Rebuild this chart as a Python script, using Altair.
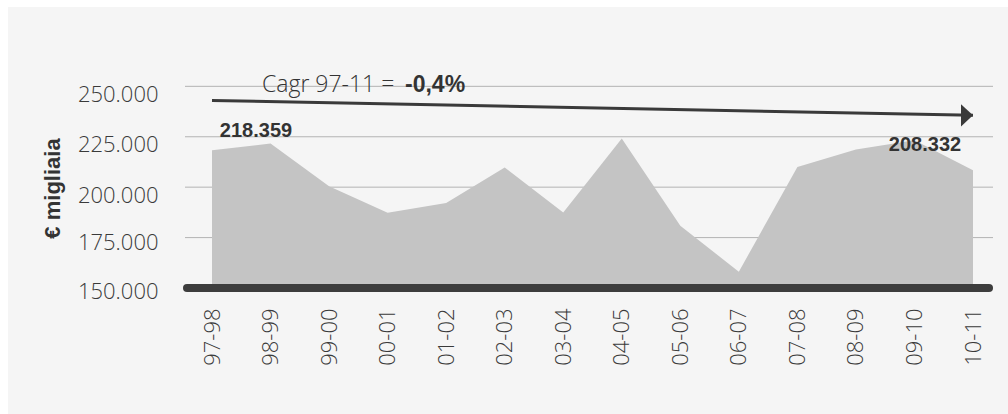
import altair as alt
import pandas as pd

periods = ["97-98", "98-99", "99-00", "00-01", "01-02", "02-03", "03-04",
           "04-05", "05-06", "06-07", "07-08", "08-09", "09-10", "10-11"]
values = [218359, 221600, 200500, 187300, 192200, 209750, 187500,
          224100, 180850, 158070, 210050, 218660, 223270, 208332]
y_ticks = [150000, 175000, 200000, 225000, 250000]
first_label = "218.359"
last_label = "208.332"
cagr_text = "Cagr 97-11 ="
cagr_value = "-0,4%"
arrow_start = 243000
arrow_end = 235600
y_base = 150000

df = pd.DataFrame({"period": periods, "value": values})
grid_df = pd.DataFrame({"value": y_ticks})
first_df = pd.DataFrame({"period": [periods[0]], "value": [values[0]], "label": [first_label]})
last_df = pd.DataFrame({"period": [periods[-1]], "value": [values[-1]], "label": [last_label]})
arrow_df = pd.DataFrame({"period": [periods[0]], "period2": [periods[-1]],
                         "value": [arrow_start], "end": [arrow_end]})
head_df = pd.DataFrame({"period": [periods[-1]], "value": [arrow_end]})
cagr_df = pd.DataFrame({"period": [periods[0]], "value": [y_ticks[-1]],
                        "t1": [cagr_text], "t2": [cagr_value]})
base_df = pd.DataFrame({"value": [y_base]})

LIGHT = "Open Sans"
BOLD = "Liberation Sans"
TXT = "#3a3a3a"

xscale = alt.Scale(type="point", domain=periods, range=[27, 788], padding=0)
yscale = alt.Scale(domain=[150000, 270000], nice=False, zero=False)

x_axis = alt.Axis(labelAngle=270, labelAlign="right", labelBaseline="middle",
                  ticks=False, grid=False, domain=False, labelFont=LIGHT,
                  labelFontWeight=300, labelFontSize=22, labelColor=TXT,
                  labelPadding=20, title=None)
y_axis = alt.Axis(values=y_ticks, labelExpr="format(datum.value/1000, '.3f')",
                  domain=False, ticks=False, grid=False, labelFont=LIGHT,
                  labelFontWeight=300, labelFontSize=22, labelColor=TXT,
                  labelPadding=27,
                  labelOffset={"condition": [{"test": "datum.value < 160000", "value": 3},
                                             {"test": "datum.value < 185000", "value": 5}],
                               "value": 8},
                  title="€ migliaia", titleFont=BOLD,
                  titleFontWeight="bold", titleFontSize=22, titleColor="#333333",
                  titleX=-133, titleY=142, titleBaseline="middle", titleAngle=270)


def X():
    return alt.X("period:N", scale=xscale, axis=x_axis, title=None)


def Y():
    return alt.Y("value:Q", scale=yscale, axis=y_axis, title="€ migliaia")


grid = alt.Chart(grid_df).mark_rule(color="#b3b3b3", strokeWidth=1).encode(
    x=alt.value(0), x2=alt.value(808), y=Y())

area = alt.Chart(df).mark_area(color="#c4c4c4", opacity=1).encode(
    x=X(), y=Y(), y2=alt.datum(y_base),
)

baseline = alt.Chart(base_df).mark_rule(color="#3d3d3d", strokeWidth=8,
                                        strokeCap="round").encode(
    x=alt.value(2), x2=alt.value(804), y=Y())

arrow = alt.Chart(arrow_df).mark_rule(color="#3a3a3a", strokeWidth=3).encode(
    x=X(), x2="period2:N", y=Y(), y2="end:Q",
)

head = alt.Chart(head_df).mark_point(
    shape="M0,0L-1,-0.92L-1,0.92Z", size=576, filled=True, color="#3a3a3a", opacity=1
).encode(x=X(), y=Y())

lab1 = alt.Chart(first_df).mark_text(font=BOLD, fontWeight="bold", fontSize=20,
                                     color="#333333", dx=44, dy=-19,
                                     baseline="middle", align="center").encode(
    x=X(), y=Y(), text="label:N")
lab2 = alt.Chart(last_df).mark_text(font=BOLD, fontWeight="bold", fontSize=20,
                                    color="#333333", dx=-48, dy=-25,
                                    baseline="middle", align="center").encode(
    x=X(), y=Y(), text="label:N")

cagr1 = alt.Chart(cagr_df).mark_text(font=LIGHT, fontWeight=300, fontSize=23,
                                     color="#333333", dx=50, dy=-1,
                                     baseline="middle", align="left").encode(
    x=X(), y=Y(), text="t1:N")
cagr2 = alt.Chart(cagr_df).mark_text(font=BOLD, fontWeight="bold", fontSize=23,
                                     color="#333333", dx=193, dy=-1,
                                     baseline="middle", align="left").encode(
    x=X(), y=Y(), text="t2:N")

# white page margin strips around the light panel
strip_left = alt.Chart(head_df).mark_rect(color="#ffffff").encode(
    x=alt.value(-185), x2=alt.value(-177), y=alt.value(-46), y2=alt.value(368))
strip_top = alt.Chart(head_df).mark_rect(color="#ffffff").encode(
    x=alt.value(-185), x2=alt.value(823), y=alt.value(-46), y2=alt.value(-39))

chart = alt.layer(grid, area, baseline, arrow, head, lab1, lab2, cagr1, cagr2,
                  strip_left, strip_top).properties(
    width=808, height=242,
    autosize=alt.AutoSizeParams(type="none"),
    padding={"left": 185, "top": 46, "right": 15, "bottom": 126},
).configure(background="#f5f5f5").configure_view(stroke=None)

chart.save("out.html", embed_options={"renderer": "svg", "actions": False})
